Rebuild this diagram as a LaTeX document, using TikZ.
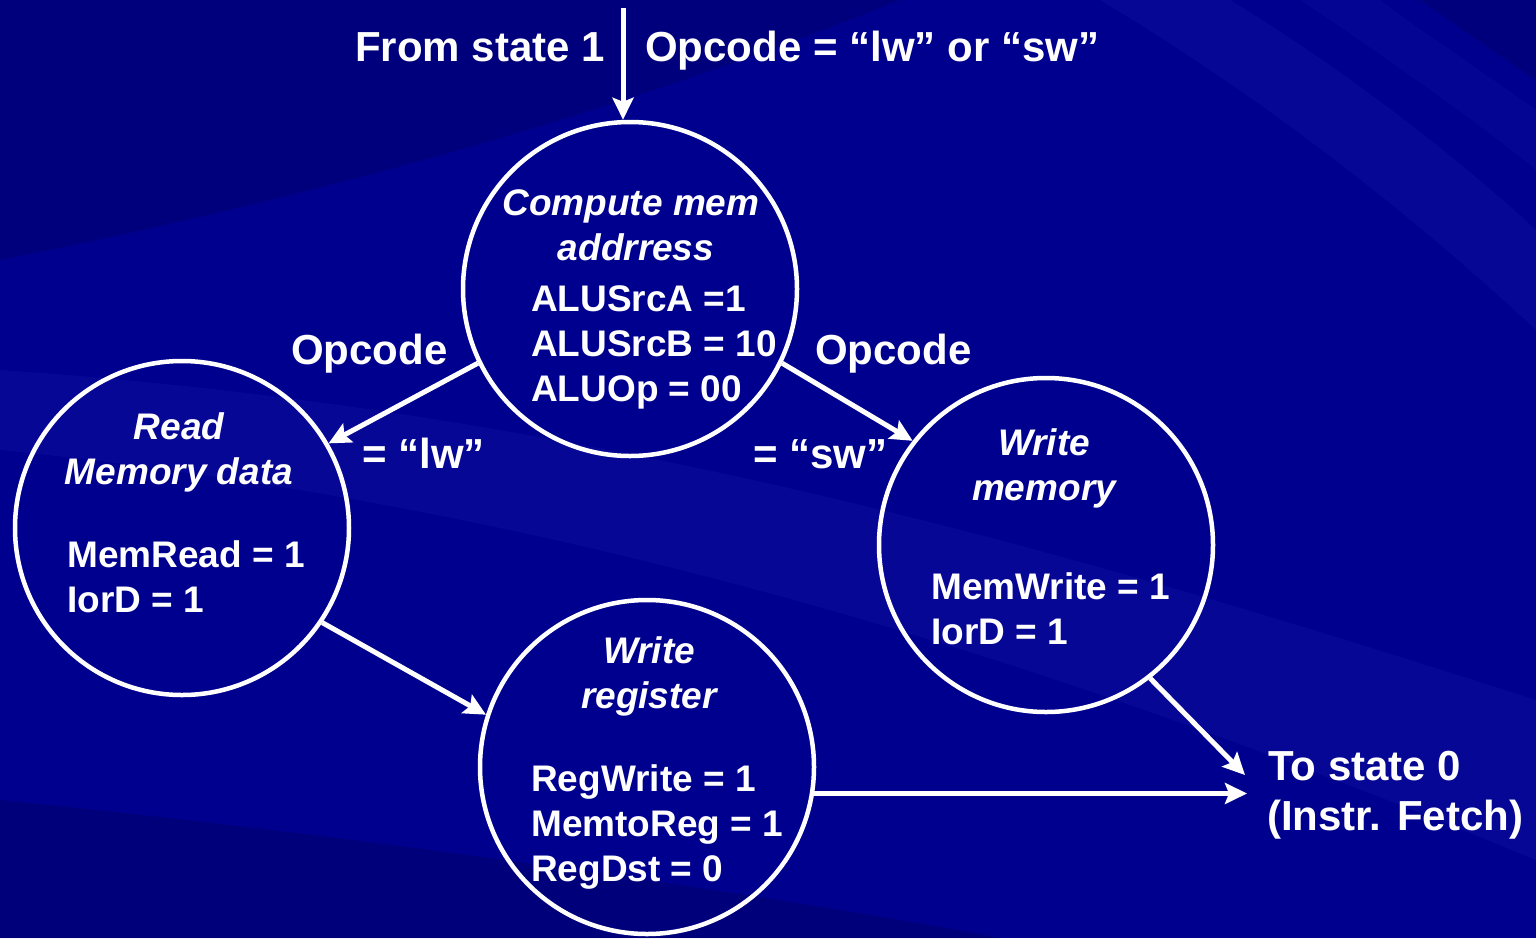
\documentclass[tikz,border=0pt]{standalone}
\usepackage{fontspec}
\setmainfont{Liberation Sans}
\usetikzlibrary{arrows.meta}
\definecolor{bgblue}{RGB}{0,0,142}
\definecolor{lightband}{RGB}{70,70,220}
\definecolor{darkband}{RGB}{0,0,95}
\begin{document}
\begin{tikzpicture}[x=1pt,y=-1pt,
  state/.style={circle,draw=white,line width=4.5pt,minimum size=334pt,inner sep=0pt},
  big/.style={text=white,font=\fontsize{42}{50}\selectfont\bfseries,inner sep=0pt,anchor=base west},
  body/.style={text=white,font=\fontsize{37}{45}\selectfont\bfseries,inner sep=0pt,anchor=base west},
  title/.style={text=white,font=\fontsize{37}{45}\selectfont\bfseries\itshape,inner sep=0pt,anchor=base},
  flow/.style={draw=white,line width=5pt,-{Stealth[length=22pt,width=21pt,inset=4pt]}}]

% backdrop with soft diagonal streaks
\useasboundingbox (0,0) rectangle (1536,938);
\fill[bgblue] (0,0) rectangle (1536,938);
\fill[darkband,opacity=0.35] (0,0) -- (900,0) .. controls (600,120) and (300,200) .. (0,260) -- cycle;
\fill[darkband,opacity=0.4] (0,800) .. controls (400,840) and (800,900) .. (1000,938) -- (0,938) -- cycle;
\fill[lightband,opacity=0.10] (0,370) .. controls (600,410) and (1100,560) .. (1536,700) -- (1536,860) .. controls (1100,680) and (600,510) .. (0,450) -- cycle;
\fill[lightband,opacity=0.10] (1100,0) .. controls (1300,120) and (1450,250) .. (1536,330) -- (1536,230) .. controls (1450,150) and (1330,60) .. (1230,0) -- cycle;
\fill[lightband,opacity=0.08] (1300,0) .. controls (1420,80) and (1500,140) .. (1536,170) -- (1536,110) .. controls (1480,70) and (1420,30) .. (1380,0) -- cycle;
\fill[darkband,opacity=0.35] (1420,0) -- (1536,0) -- (1536,80) .. controls (1490,50) and (1450,20) .. cycle;

% states
\node[state] (cmp) at (630,289) {};
\node[state] (rd) at (182,528) {};
\node[state] (wm) at (1046,545) {};
\node[state] (wr) at (647,767) {};

% state contents
\node[title] (cmpa) at (631,215) {Compute mem};
\node[title] (cmpb) at (636,260) {addrress};
\node[body] (cmpc) at (531,311) {ALUSrcA =1};
\node[body] (cmpd) at (531,356) {ALUSrcB = 10};
\node[body] (cmpe) at (531,401) {ALUOp = 00};

\node[title] (rda) at (179,439) {Read};
\node[title] (rdb) at (179,484) {Memory data};
\node[body] (rdc) at (67,567) {MemRead = 1};
\node[body] (rdd) at (67,612) {IorD = 1};

\node[title] (wma) at (1044,455) {Write};
\node[title] (wmb) at (1044,500) {memory};
\node[body] (wmc) at (931,599) {MemWrite = 1};
\node[body] (wmd) at (931,644) {IorD = 1};

\node[title] (wra) at (649,663) {Write};
\node[title] (wrb) at (649,708) {register};
\node[body] (wrc) at (531,791) {RegWrite = 1};
\node[body] (wrd) at (531,836) {MemtoReg = 1};
\node[body] (wre) at (531,881) {RegDst = 0};

% transition labels
\node[big,anchor=base east] (from) at (605,61) {From state 1};
\node[big] (cond) at (645,61) {Opcode = “lw” or “sw”};
\node[big] (lwa) at (291,364) {Opcode};
\node[big] (lwb) at (362,468) {= “lw”};
\node[big] (swa) at (815,364) {Opcode};
\node[big] (swb) at (753,468) {= “sw”};
\node[big] (toa) at (1268,780) {To state 0};
\node[big] (tob) at (1267,830) {(Instr. Fetch)};

% transitions
\coordinate (src) at (623,8);
\coordinate (t0a) at (1245,775);
\coordinate (t0b) at (1247,793);
\draw[flow] (src) -- (src |- cmp.north);
\draw[flow] (cmp.206) -- (rd.30);
\draw[flow] (cmp.334) -- (wm.142);
\draw[flow] (rd.-34) -- (wr.162);
\draw[flow] (wm.-52) -- (t0a);
\draw[flow] (wr.-9) -- (wr.-9 -| t0b);
\end{tikzpicture}
\end{document}
